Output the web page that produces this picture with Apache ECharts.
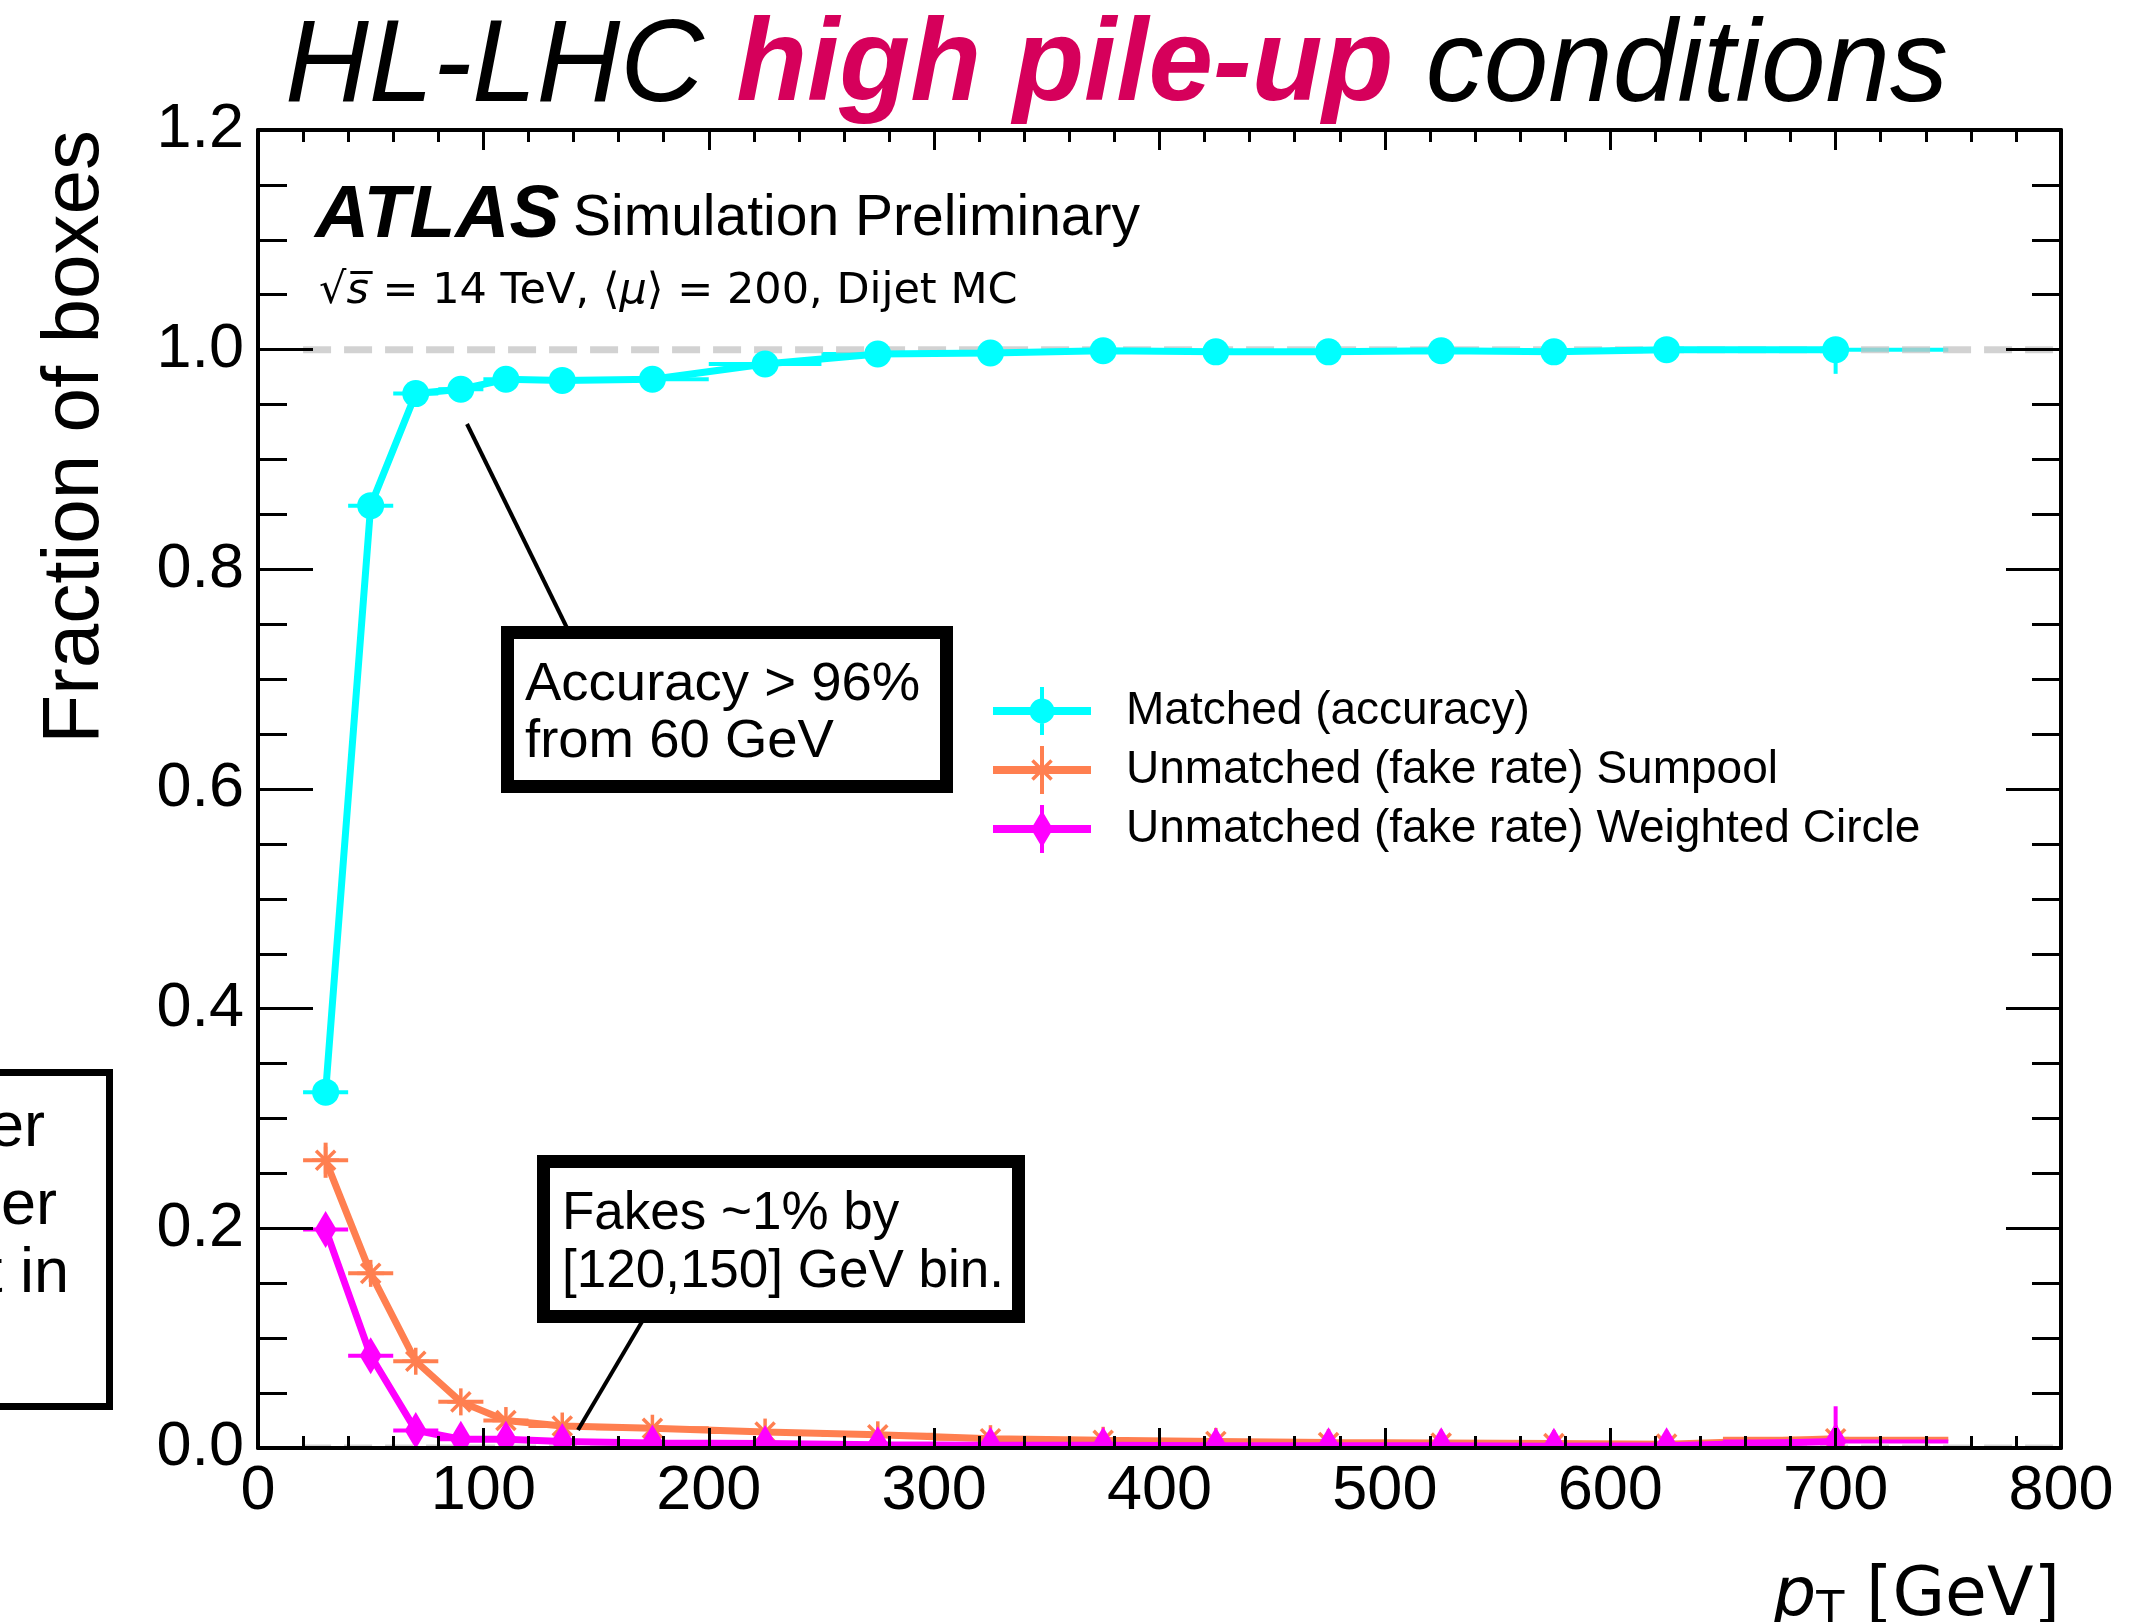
<!DOCTYPE html>
<html>
<head>
<meta charset="utf-8">
<script src="https://cdn.jsdelivr.net/npm/echarts@6/dist/echarts.min.js"></script>
<style>
  html, body { margin: 0; padding: 0; background: #fff; }
  #chart { width: 2130px; height: 1622px; }
</style>
</head>
<body>
<div id="chart"></div>
<script>
// pT bins [GeV]
const binLow  = [20, 40, 60, 80, 100, 120, 150, 200, 250, 300, 350, 400, 450, 500, 550, 600, 650];
const binHigh = [40, 60, 80, 100, 120, 150, 200, 250, 300, 350, 400, 450, 500, 550, 600, 650, 750];

// Fraction of boxes per bin, with statistical uncertainties
const matched     = [0.324, 0.858, 0.960, 0.964, 0.973, 0.972, 0.973, 0.987, 0.996, 0.997, 0.999, 0.998, 0.998, 0.999, 0.998, 1.000, 1.000];
const matchedErr  = [0.004, 0.003, 0.002, 0.002, 0.002, 0.002, 0.001, 0.001, 0.001, 0.001, 0.001, 0.001, 0.001, 0.001, 0.002, 0.003, 0.022];
const sumpool     = [0.262, 0.159, 0.079, 0.042, 0.025, 0.020, 0.018, 0.0145, 0.012, 0.0085, 0.007, 0.006, 0.005, 0.0045, 0.004, 0.0035, 0.0085];
const sumpoolErr  = [0.016, 0.008, 0.005, 0.003, 0.002, 0.002, 0.001, 0.001, 0.001, 0.001, 0.001, 0.001, 0.001, 0.001, 0.001, 0.001, 0.004];
const weighted    = [0.199, 0.084, 0.016, 0.008, 0.008, 0.006, 0.0045, 0.004, 0.003, 0.0025, 0.0025, 0.002, 0.002, 0.002, 0.0015, 0.002, 0.006];
const weightedErr = [0.012, 0.006, 0.003, 0.002, 0.002, 0.001, 0.001, 0.001, 0.001, 0.001, 0.001, 0.001, 0.001, 0.001, 0.001, 0.001, 0.032];

// Axis ranges and tick steps
const xRange = [0, 800], xStep = 100;
const yRange = [0, 1.2], yStep = 0.2;

// Reference levels drawn as dashed lines, and their pT span
const refLevels = [1.0, 0.0];
const refSpan = [20, 800];

const seriesNames = [
  'Matched (accuracy)',
  'Unmatched (fake rate) Sumpool',
  'Unmatched (fake rate) Weighted Circle'
];
const seriesColors = ['#00ffff', '#ff7f50', '#ff00ff'];

const SANS = '"Liberation Sans", Arial, Helvetica, sans-serif';
const DEJAVU = '"DejaVu Sans", sans-serif';

const binCentre = binLow.map((lo, i) => (lo + binHigh[i]) / 2);

// y of a "middle" text anchor that puts the baseline at `baseline`
const mid = (baseline, size, k) => baseline - (k === undefined ? 0.29 : k) * size;
const midDV = (baseline, size) => mid(baseline, size, 0.25);

const measureCtx = document.createElement('canvas').getContext('2d');
function textWidth(font, s) { measureCtx.font = font; return measureCtx.measureText(s).width; }

function errData(vals, errs) {
  return vals.map((v, i) => [binCentre[i], v, binLow[i], binHigh[i],
    Math.max(0, v - errs[i]), Math.min(1, v + errs[i])]);
}
function pointData(vals) { return vals.map((v, i) => [binCentre[i], v]); }

function errorBarItem(color) {
  return function (params, api) {
    const y = api.value(1);
    const a = api.coord([api.value(2), y]);
    const b = api.coord([api.value(3), y]);
    const lo = api.coord([api.value(0), api.value(4)]);
    const hi = api.coord([api.value(0), api.value(5)]);
    return {
      type: 'group',
      children: [
        { type: 'line', shape: { x1: a[0], y1: a[1], x2: b[0], y2: b[1] }, style: { stroke: color, lineWidth: 4 } },
        { type: 'line', shape: { x1: lo[0], y1: lo[1], x2: hi[0], y2: hi[1] }, style: { stroke: color, lineWidth: 4 } }
      ]
    };
  };
}

function markerItem(kind, color) {
  return function (params, api) {
    const p = api.coord([api.value(0), api.value(1)]);
    if (kind === 'circle') {
      return { type: 'circle', shape: { cx: p[0], cy: p[1], r: 13.5 }, style: { fill: color } };
    }
    if (kind === 'diamond') {
      return {
        type: 'polygon',
        shape: { points: [[p[0], p[1] - 18.5], [p[0] + 11, p[1]], [p[0], p[1] + 18.5], [p[0] - 11, p[1]]] },
        style: { fill: color }
      };
    }
    const arms = [0, 45, 90, 135].map(function (d) {
      const t = d * Math.PI / 180, r = 13.5;
      return {
        type: 'line',
        shape: { x1: p[0] - r * Math.cos(t), y1: p[1] - r * Math.sin(t), x2: p[0] + r * Math.cos(t), y2: p[1] + r * Math.sin(t) },
        style: { stroke: color, lineWidth: 3.5 }
      };
    });
    return { type: 'group', children: arms };
  };
}

function refLineItem(params, api) {
  const y = api.value(2);
  const a = api.coord([api.value(0), y]);
  const b = api.coord([api.value(1), y]);
  return {
    type: 'line',
    shape: { x1: a[0], y1: a[1], x2: b[0], y2: b[1] },
    style: { stroke: 'rgba(195,195,195,0.75)', lineWidth: 7, lineDash: [28, 13] }
  };
}

// Legend glyphs: horizontal bin bar + vertical error bar + marker, filled as one path
function poly(points) {
  let area = 0;
  for (let i = 0; i < points.length; i++) {
    const p = points[i], q = points[(i + 1) % points.length];
    area += p[0] * q[1] - q[0] * p[1];
  }
  const pts = area < 0 ? points.slice().reverse() : points;
  return 'M' + pts.map(p => p[0].toFixed(2) + ' ' + p[1].toFixed(2)).join('L') + 'Z';
}
function rectPts(x0, y0, x1, y1) { return [[x0, y0], [x1, y0], [x1, y1], [x0, y1]]; }
function barPts(cx, cy, ang, r, hw) {
  const c = Math.cos(ang), s = Math.sin(ang);
  const nx = -s * hw, ny = c * hw;
  return [[cx - r * c + nx, cy - r * s + ny], [cx + r * c + nx, cy + r * s + ny],
          [cx + r * c - nx, cy + r * s - ny], [cx - r * c - nx, cy - r * s - ny]];
}
const LW = 98, LH = 48, LCX = 49, LCY = 24;
const legendBase = poly(rectPts(0, LCY - 4, LW, LCY + 4)) + poly(rectPts(LCX - 2, 0, LCX + 2, LH));
const iconCircle = 'path://' + legendBase +
  'M' + (LCX - 12.5) + ' ' + LCY + 'A12.5 12.5 0 1 1 ' + (LCX + 12.5) + ' ' + LCY +
  'A12.5 12.5 0 1 1 ' + (LCX - 12.5) + ' ' + LCY + 'Z';
const iconStar = 'path://' + legendBase +
  [45, 135].map(d => poly(barPts(LCX, LCY, d * Math.PI / 180, 13.5, 1.75))).join('');
const iconDiamond = 'path://' + legendBase +
  poly([[LCX, LCY - 18.5], [LCX + 11, LCY], [LCX, LCY + 18.5], [LCX - 11, LCY]]);

const seriesVals = [matched, sumpool, weighted];
const seriesErrs = [matchedErr, sumpoolErr, weightedErr];
const markerKinds = ['circle', 'asterisk', 'diamond'];

const series = [];
seriesVals.forEach(function (vals, k) {
  const color = seriesColors[k];
  const zBase = 2 + k * 3 + (k > 0 ? 1 : 0);
  series.push({
    type: 'custom', name: seriesNames[k] + ' bars', clip: true, z: zBase,
    renderItem: errorBarItem(color),
    encode: { x: [0, 2, 3], y: [1, 4, 5] },
    data: errData(vals, seriesErrs[k])
  });
  if (k === 0) {
    series.push({
      type: 'custom', name: 'reference', clip: true, z: zBase + 0.5,
      renderItem: refLineItem,
      encode: { x: [0, 1], y: 2 },
      data: refLevels.map(v => [refSpan[0], refSpan[1], v])
    });
  }
  series.push({
    type: 'line', name: seriesNames[k], z: zBase + 1, clip: true,
    symbol: 'none', data: pointData(vals),
    itemStyle: { color: color },
    lineStyle: { color: color, width: 7 }
  });
  series.push({
    type: 'custom', name: seriesNames[k] + ' markers', clip: true, z: zBase + 2,
    renderItem: markerItem(markerKinds[k], color),
    encode: { x: 0, y: 1 },
    data: pointData(vals)
  });
});

function makeX(pos, labels) {
  return {
    type: 'value', gridIndex: 0, position: pos, min: xRange[0], max: xRange[1], interval: xStep, z: 30,
    axisLine: { show: true, onZero: false, lineStyle: { color: '#000', width: 4 } },
    axisTick: { show: true, inside: true, length: 20, lineStyle: { color: '#000', width: 3 } },
    minorTick: { show: true, splitNumber: 5, length: 12, lineStyle: { color: '#000', width: 3 } },
    splitLine: { show: false }, minorSplitLine: { show: false },
    axisLabel: { show: labels, fontFamily: SANS, fontSize: 63, color: '#000', margin: 12 }
  };
}
function makeY(pos, labels) {
  return {
    type: 'value', gridIndex: 0, position: pos, min: yRange[0], max: yRange[1], interval: yStep, z: 30,
    axisLine: { show: true, onZero: false, lineStyle: { color: '#000', width: 4 } },
    axisTick: { show: true, inside: true, length: 55, lineStyle: { color: '#000', width: 3 } },
    minorTick: { show: true, splitNumber: 4, length: 29, lineStyle: { color: '#000', width: 3 } },
    splitLine: { show: false }, minorSplitLine: { show: false },
    axisLabel: { show: labels, fontFamily: SANS, fontSize: 63, color: '#000', margin: 14,
                 formatter: v => v.toFixed(1) }
  };
}

// x-axis title: p (italic) with subscript T, then [GeV]
const xtSize = 68, xtSub = 46, xtBase = 1614, xtRight = 2060;
const fP = 'italic ' + xtSize + 'px "DejaVu Sans"';
const fT = xtSub + 'px "DejaVu Sans"';
const fG = xtSize + 'px "DejaVu Sans"';
const wP = textWidth(fP, 'p'), wT = textWidth(fT, 'T'), wG = textWidth(fG, ' [GeV]');
const xtLeft = xtRight - (wP + wT + wG);

function txt(x, baseline, size, text, extra, k) {
  return {
    type: 'text', x: x, y: mid(baseline, size, k), z: 100,
    style: Object.assign({ text: text, fontSize: size, fontFamily: SANS, fill: '#000',
                           align: 'left', verticalAlign: 'middle' }, extra || {})
  };
}

const graphics = [
  // title
  {
    type: 'text', x: 285, y: mid(102, 116), z: 100,
    style: {
      text: '{a|HL-LHC }{b|high pile-up}{a| conditions}',
      align: 'left', verticalAlign: 'middle',
      rich: {
        a: { fontFamily: SANS, fontStyle: 'italic', fontSize: 116, fill: '#000', lineHeight: 122 },
        b: { fontFamily: SANS, fontStyle: 'italic', fontWeight: 'bold', fontSize: 116, fill: '#d6005b', lineHeight: 122 }
      }
    }
  },
  // y-axis title
  {
    type: 'text', x: 99 - 0.29 * 80, y: 130, rotation: Math.PI / 2, z: 100,
    style: { text: 'Fraction of boxes', fontFamily: SANS, fontSize: 80, fill: '#000', align: 'right', verticalAlign: 'middle' }
  },
  // x-axis title
  txt(xtLeft, xtBase, xtSize, 'p', { fontFamily: DEJAVU, fontStyle: 'italic' }, 0.25),
  txt(xtLeft + wP, xtBase + 10, xtSub, 'T', { fontFamily: DEJAVU }, 0.25),
  txt(xtLeft + wP + wT, xtBase, xtSize, ' [GeV]', { fontFamily: DEJAVU }, 0.25),
  // experiment label
  txt(315, 238, 75, 'ATLAS', { fontStyle: 'italic', fontWeight: 'bold' }),
  txt(573, 236, 57, 'Simulation Preliminary'),
  {
    type: 'text', x: 319, y: midDV(303, 43), z: 100,
    style: {
      text: '{r|√}{i|s̅}{r| = 14 TeV, ⟨}{i|μ}{r|⟩ = 200, Dijet MC}',
      align: 'left', verticalAlign: 'middle',
      rich: {
        r: { fontFamily: DEJAVU, fontSize: 43, fill: '#000', lineHeight: 50 },
        i: { fontFamily: DEJAVU, fontStyle: 'italic', fontSize: 43, fill: '#000', lineHeight: 50 }
      }
    }
  },
  // accuracy callout
  { type: 'line', z: 90, shape: { x1: 568, y1: 630, x2: 467, y2: 424 }, style: { stroke: '#000', lineWidth: 4 } },
  { type: 'rect', z: 91, shape: { x: 507.5, y: 632.5, width: 439, height: 154 }, style: { fill: '#fff', stroke: '#000', lineWidth: 13 } },
  txt(525, 701, 54.5, 'Accuracy > 96%'),
  txt(525, 758, 54.5, 'from 60 GeV'),
  // fake-rate callout
  { type: 'line', z: 90, shape: { x1: 643, y1: 1320, x2: 578, y2: 1430 }, style: { stroke: '#000', lineWidth: 4 } },
  { type: 'rect', z: 91, shape: { x: 543.5, y: 1161.5, width: 475, height: 155 }, style: { fill: '#fff', stroke: '#000', lineWidth: 13 } },
  txt(562, 1230, 53, 'Fakes ~1% by'),
  txt(562, 1288, 53, '[120,150] GeV bin.'),
  // side note box running off the left edge
  { type: 'rect', z: 91, shape: { x: -60, y: 1072.5, width: 169.5, height: 334 }, style: { fill: '#fff', stroke: '#000', lineWidth: 7 } },
  txt(45, 1147, 63, 'er', { align: 'right' }),
  txt(57, 1225, 63, 'er', { align: 'right' }),
  txt(69, 1293, 63, 't in', { align: 'right' })
];

const chart = echarts.init(document.getElementById('chart'), null, { renderer: 'canvas' });
chart.setOption({
  animation: false,
  backgroundColor: '#fff',
  grid: { left: 258, top: 130, width: 1803, height: 1318, containLabel: false },
  xAxis: [makeX('bottom', true), makeX('top', false)],
  yAxis: [makeY('left', true), makeY('right', false)],
  legend: {
    orient: 'vertical', left: 988, top: 682,
    itemWidth: LW, itemHeight: LH, itemGap: 11,
    selectedMode: false,
    textStyle: { fontFamily: SANS, fontSize: 46, color: '#000', padding: [0, 0, 0, 30] },
    data: [
      { name: seriesNames[0], icon: iconCircle },
      { name: seriesNames[1], icon: iconStar },
      { name: seriesNames[2], icon: iconDiamond }
    ]
  },
  series: series,
  graphic: graphics
});
</script>
</body>
</html>
